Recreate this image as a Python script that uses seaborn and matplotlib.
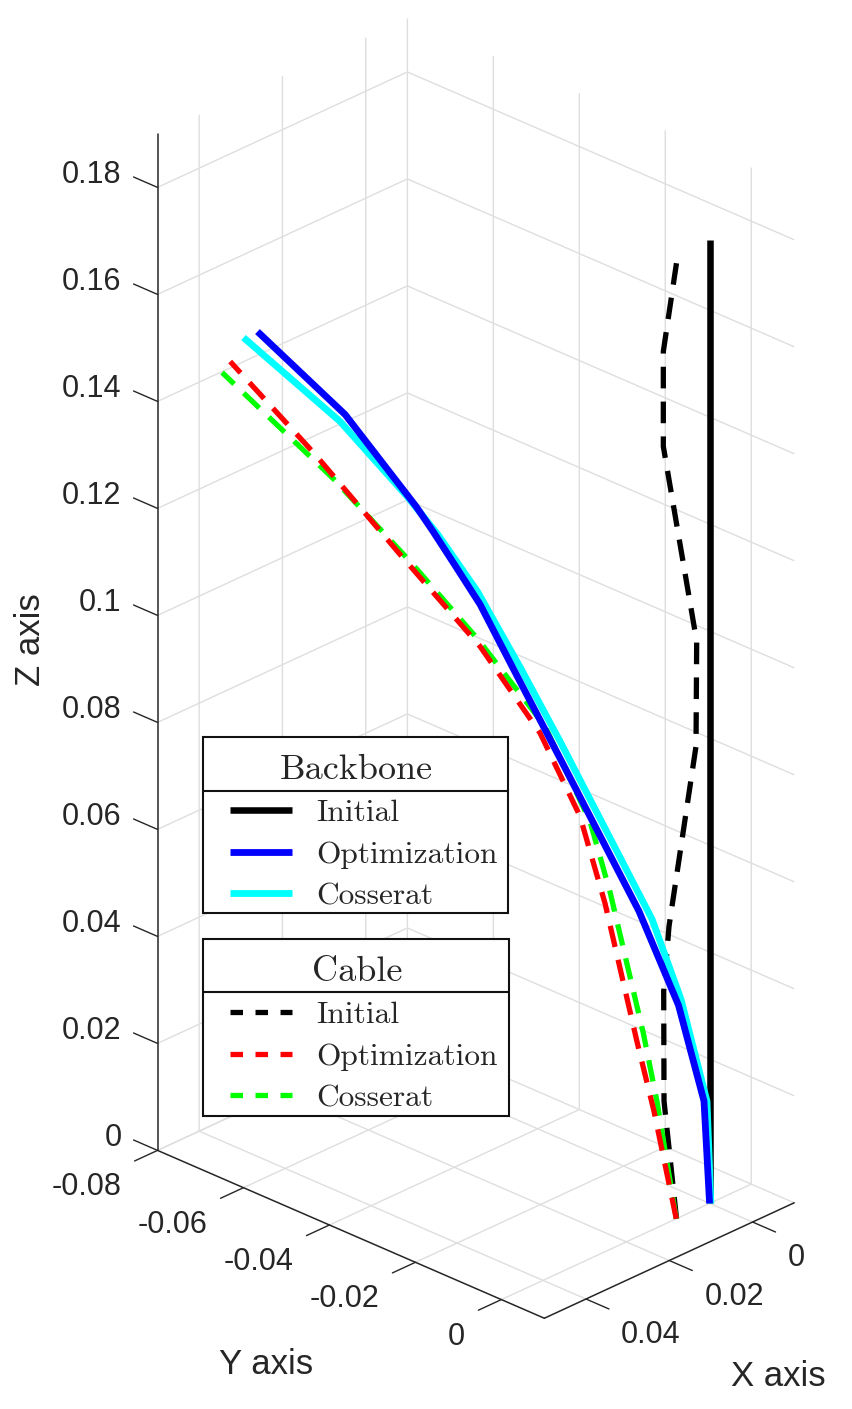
import matplotlib
matplotlib.use("Agg")
import matplotlib.pyplot as plt
import seaborn as sns
from matplotlib.legend_handler import HandlerLine2D
from matplotlib.lines import Line2D
from matplotlib.patches import Rectangle
from mpl_toolkits.mplot3d import proj3d

# backbone, metres
backbone_init_x = [0.0, 0.0]
backbone_init_y = [0.0, 0.0]
backbone_init_z = [0.0, 0.18]

backbone_opt_x = [0.0, 0.00032, 0.00178, 0.00404, 0.00856, 0.01125, 0.01314, 0.01447, 0.01583, 0.0168, 0.02086, 0.02588]
backbone_opt_y = [0.0, -0.00099, -0.00551, -0.01251, -0.0265, -0.03482, -0.04067, -0.0448, -0.049, -0.05202, -0.06459, -0.08011]
backbone_opt_z = [0.0, 0.01889, 0.03576, 0.0517, 0.07703, 0.09192, 0.10251, 0.10834, 0.11421, 0.11819, 0.13244, 0.14434]

backbone_cos_x = [-0.0001, 0.00015, 0.00164, 0.00329, 0.00856, 0.01081, 0.01329, 0.01556, 0.01731, 0.02115, 0.02668]
backbone_cos_y = [0.0002, -0.00046, -0.00507, -0.0102, -0.0265, -0.03346, -0.04115, -0.04816, -0.0536, -0.06547, -0.08259]
backbone_cos_z = [0.0, 0.019, 0.03699, 0.05074, 0.0802, 0.09223, 0.10483, 0.11385, 0.11968, 0.13093, 0.14264]

# cable
cable_init_x = [0.00794, 0.01094, 0.01102, 0.00974, 0.00326, 0.0031, 0.01111, 0.01111, 0.00775]
cable_init_y = [0.0, 0.0, 0.0, 0.0, 0.0, 0.0, 0.0, 0.0, 0.0]
cable_init_z = [0.0, 0.02305, 0.04363, 0.05532, 0.08661, 0.10617, 0.14548, 0.16323, 0.17958]

cable_opt_x = [0.008, 0.00928, 0.01023, 0.01208, 0.01351, 0.0158, 0.01923, 0.02381, 0.02867, 0.03353]
cable_opt_y = [0.0, -0.00395, -0.00691, -0.01263, -0.01706, -0.02414, -0.03477, -0.04894, -0.064, -0.07905]
cable_opt_z = [0.0, 0.01921, 0.03127, 0.05605, 0.07127, 0.08519, 0.0989, 0.1128, 0.128, 0.14186]

cable_cos_x = [0.008, 0.00909, 0.00989, 0.01179, 0.01294, 0.01551, 0.01935, 0.02324, 0.02764, 0.034]
cable_cos_y = [0.0, -0.00337, -0.00585, -0.01174, -0.01529, -0.02326, -0.03513, -0.04717, -0.06081, -0.08047]
cable_cos_z = [0.0, 0.02089, 0.03339, 0.05836, 0.07075, 0.08665, 0.10014, 0.11191, 0.12424, 0.13948]

x_ticks = [0, 0.02, 0.04]
x_labels = ["0", "0.02", "0.04"]
y_ticks = [-0.08, -0.06, -0.04, -0.02, 0]
y_labels = ["-0.08", "-0.06", "-0.04", "-0.02", "0"]
z_ticks = [0, 0.02, 0.04, 0.06, 0.08, 0.1, 0.12, 0.14, 0.16, 0.18]
z_labels = ["0", "0.02", "0.04", "0.06", "0.08", "0.1", "0.12", "0.14", "0.16", "0.18"]

W, H = 853, 1409
INK = (0.15, 0.15, 0.15)

sns.set_theme(style="white", rc={
    "grid.color": "#dedede", "grid.linewidth": 1.0,
    "axes.edgecolor": INK, "axes.linewidth": 1.1,
    "xtick.major.width": 1.0, "ytick.major.width": 1.0,
})
plt.rcParams["font.family"] = ["Liberation Sans", "DejaVu Sans"]


def fx(px):
    return px / W


def fy(py):
    return 1 - py / H


fig = plt.figure(figsize=(W / 100, H / 100), dpi=100)
S = 1270
ax = fig.add_axes([(458.7 - S / 2) / W, (H - 685.5 - S / 2) / H, S / W, S / H],
                  projection="3d", proj_type="ortho", computed_zorder=False)
ax.patch.set_alpha(0)
ax.view_init(elev=26.6, azim=44.1)
ax.set_box_aspect((359.2, 538.9, 1137.3))


def draw(xs, ys, zs, color, lw, dashed=False):
    sns.lineplot(x=xs, y=ys, sort=False, estimator=None, errorbar=None, color=color,
                 linewidth=lw, ax=ax, legend=False)
    line = ax.lines[-1]
    line.set_data_3d(xs, ys, zs)
    line.set_solid_capstyle("butt")
    line.set_solid_joinstyle("round")
    if dashed:
        line.set_dash_capstyle("butt")
        line.set_dashes((4.1, 2.5))
    return line


draw(cable_init_x, cable_init_y, cable_init_z, "black", 3.8, dashed=True)
draw(cable_cos_x, cable_cos_y, cable_cos_z, "#00ff00", 3.8, dashed=True)
draw(cable_opt_x, cable_opt_y, cable_opt_z, "red", 3.8, dashed=True)
h_init = draw(backbone_init_x, backbone_init_y, backbone_init_z, "black", 4.7)
h_cos = draw(backbone_cos_x, backbone_cos_y, backbone_cos_z, "cyan", 4.9)
h_opt = draw(backbone_opt_x, backbone_opt_y, backbone_opt_z, "blue", 4.9)

ax.set_xlim(-0.01, 0.05)
ax.set_ylim(-0.08, 0.01)
ax.set_zlim(0, 0.19)
ax.set_xticks(x_ticks)
ax.set_yticks(y_ticks)
ax.set_zticks(z_ticks)
ax.set_xticklabels([""] * len(x_ticks))
ax.set_yticklabels([""] * len(y_ticks))
ax.set_zticklabels([""] * len(z_ticks))
ax.set_xlabel("")
ax.set_ylabel("")
ax.grid(True)

for axis in (ax.xaxis, ax.yaxis, ax.zaxis):
    axis.set_pane_color((1, 1, 1, 0))
    axis.line.set_color(INK)
    axis.line.set_linewidth(1.1)
    axis.set_tick_params(color=INK)
    axis._axinfo["tick"]["inward_factor"] = 0

# matlab style ticks: z axis on the left corner, its ticks running back along y
ax.zaxis.set_ticks_position("lower")
ax.zaxis._get_tickdir = lambda pos: 1
ax.xaxis._axinfo["tick"]["outward_factor"] = -0.743
ax.yaxis._axinfo["tick"]["outward_factor"] = -1.15
ax.zaxis._axinfo["tick"]["outward_factor"] = 0.775

# tick labels, put relative to the ticks as matlab does
M = ax.get_proj()


def tick_label(text, x, y, z, dx, dy, ha):
    px, py, _ = proj3d.proj_transform(x, y, z, M)
    ax.annotate(text, (px, py), xytext=(dx, dy), textcoords="offset pixels", ha=ha, va="center",
                fontsize=22, color=INK, annotation_clip=False)


for t, lab in zip(x_ticks, x_labels):
    tick_label(lab, t, 0.01, 0, 35, -36, "left")
for t, lab in zip(y_ticks, y_labels):
    tick_label(lab, 0.05, t, 0, -36, -37, "right")
for t, lab in zip(z_ticks, z_labels):
    tick_label(lab, 0.05, -0.08, t, -36, 12, "right")

fig.text(fx(266.3), fy(1365), "Y axis", fontsize=25, color=INK, ha="center", va="center")
fig.text(fx(778.3), fy(1377), "X axis", fontsize=25, color=INK, ha="center", va="center")
fig.text(fx(31), fy(640), "Z axis", fontsize=25, color=INK, ha="center", va="center", rotation=90)


def legend_box(handles, title, left, top, sep_y, right, bottom):
    # header cell and body cell, as in the matlab legend
    fig.add_artist(Rectangle((fx(left), fy(bottom)), fx(right - left), (bottom - top) / H,
                             transform=fig.transFigure, facecolor="white", edgecolor="#111111", lw=1.5))
    fig.add_artist(Line2D([fx(left), fx(right)], [fy(sep_y), fy(sep_y)], color="#111111", lw=1.5))
    leg = fig.legend(handles=handles, labels=["Initial", "Optimization", "Cosserat"], title=title,
                     loc="upper left", bbox_to_anchor=(fx(left), fy(top + 4.5)), borderaxespad=0,
                     borderpad=0.4, handlelength=2.45, handletextpad=0.78, labelspacing=0.43,
                     prop={"family": "cmr10", "size": 22.6},
                     title_fontproperties={"family": "cmr10", "size": 26},
                     frameon=False, handler_map={Line2D: HandlerLine2D(xpad=0.47)})
    leg.set_zorder(5)
    return leg


legend_box([h_init, h_opt, h_cos], "Backbone", 202.7, 737.3, 790.7, 508.3, 913.3)

dash_handles = [Line2D([], [], color=c, lw=3.8, dashes=(2.37, 2.37), dash_capstyle="butt")
                for c in ("black", "red", "#00ff00")]
legend_box(dash_handles, "Cable", 202.7, 939.3, 992.3, 509.3, 1115.7)

fig.savefig("out.png", dpi=100)
